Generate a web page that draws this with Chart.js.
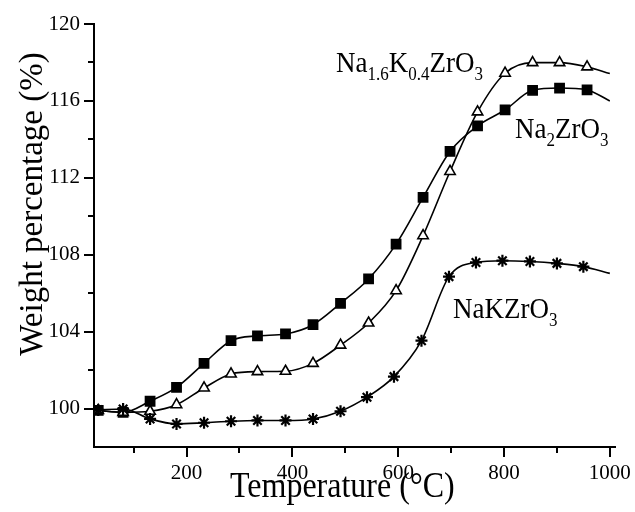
<!DOCTYPE html>
<html>
<head>
<meta charset="utf-8">
<script src="https://cdn.jsdelivr.net/npm/chart.js@4/dist/chart.umd.min.js"></script>
<style>
  body { margin: 0; background: #fff; }
  #wrap { width: 635px; height: 512px; }
</style>
</head>
<body>
<div id="wrap"><canvas id="tgaChart"></canvas></div>
<script>
// temperatures (°C) where markers sit; last entry is the curve end (no marker)
const temps = [33, 80, 131, 181, 233, 284, 334, 387, 439, 491, 544, 596, 647, 698, 750, 802, 854, 905, 957, 1000];
const tempsNaK = [33, 80, 131, 181, 233, 284, 334, 387, 439, 491, 541, 592, 644, 696, 747, 797, 849, 900, 950, 1000];

// weight percentage (%)
const na2ZrO3 = [99.9, 99.8, 100.38, 101.1, 102.35, 103.53, 103.78, 103.88, 104.36, 105.47, 106.74, 108.55, 110.98, 113.37, 114.7, 115.53, 116.55, 116.67, 116.57, 116.0];
const na16K04ZrO3 = [99.9, 99.8, 99.86, 100.2, 101.07, 101.8, 101.92, 101.94, 102.35, 103.3, 104.45, 106.13, 108.99, 112.33, 115.43, 117.44, 117.99, 117.99, 117.77, 117.42];
const naKZrO3 = [99.93, 99.98, 99.46, 99.2, 99.26, 99.34, 99.38, 99.38, 99.46, 99.86, 100.59, 101.66, 103.53, 106.86, 107.6, 107.69, 107.65, 107.55, 107.38, 107.03];

const xTicks = [100, 200, 300, 400, 500, 600, 700, 800, 900, 1000];
const yTicks = [100, 102, 104, 106, 108, 110, 112, 114, 116, 118, 120];

const FONT = '"Liberation Serif", "Times New Roman", serif';

function toPoints(xs, ys) {
    return ys.map((y, i) => ({ x: xs[i], y: y }));
}

function markerRadius(r) {
    return ctx => ctx.dataIndex === ctx.dataset.data.length - 1 ? 0 : r;
}

// draws text with subscripts, slightly stretched vertically like the original figure
function drawChem(ctx, parts, x, y, size) {
    ctx.save();
    ctx.translate(x, y);
    ctx.scale(1, 1.12);
    let cx = 0;
    parts.forEach(([text, sub]) => {
        ctx.font = (sub ? Math.round(size * 0.62) : size) + 'px ' + FONT;
        ctx.fillText(text, cx, sub ? size * 0.28 : 0);
        cx += ctx.measureText(text).width;
    });
    ctx.restore();
}

// ticks, axis titles and curve labels
const decorations = {
    id: 'decorations',
    afterDraw(chart) {
        const ctx = chart.ctx;
        const xs = chart.scales.x, ys = chart.scales.y;
        const area = chart.chartArea;
        ctx.save();
        ctx.strokeStyle = '#000';
        ctx.lineWidth = 2;
        ctx.beginPath();
        xTicks.forEach(v => {
            const px = Math.round(xs.getPixelForValue(v));
            ctx.moveTo(px, area.bottom);
            ctx.lineTo(px, area.bottom + (v % 200 === 0 ? 10 : 6));
        });
        yTicks.forEach(v => {
            const py = Math.round(ys.getPixelForValue(v));
            ctx.moveTo(area.left, py);
            ctx.lineTo(area.left - ((v - 100) % 4 === 0 ? 10 : 6), py);
        });
        ctx.stroke();

        ctx.fillStyle = '#000';
        ctx.textBaseline = 'alphabetic';
        ctx.textAlign = 'left';
        drawChem(ctx, [['Temperature (°C)', 0]], 230, 497, 32);

        ctx.save();
        ctx.translate(42, 204);
        ctx.rotate(-Math.PI / 2);
        ctx.textAlign = 'center';
        ctx.font = '33px ' + FONT;
        ctx.fillText('Weight percentage (%)', 0, 0);
        ctx.restore();

        ctx.textAlign = 'left';
        drawChem(ctx, [['Na', 0], ['1.6', 1], ['K', 0], ['0.4', 1], ['ZrO', 0], ['3', 1]], 336, 72, 27);
        drawChem(ctx, [['Na', 0], ['2', 1], ['ZrO', 0], ['3', 1]], 515, 138, 27);
        drawChem(ctx, [['NaKZrO', 0], ['3', 1]], 453, 318, 27);
        ctx.restore();
    }
};

const lineBase = {
    borderColor: '#000',
    borderWidth: 1.6,
    pointBorderColor: '#000',
    pointBorderWidth: 1.6,
    cubicInterpolationMode: 'monotone',
    fill: false
};

new Chart(document.getElementById('tgaChart'), {
    type: 'line',
    data: {
        datasets: [
            Object.assign({}, lineBase, {
                label: 'NaKZrO3',
                data: toPoints(tempsNaK, naKZrO3),
                pointStyle: 'star',
                pointRadius: markerRadius(6),
                pointBackgroundColor: '#000',
                pointBorderWidth: 2.2
            }),
            Object.assign({}, lineBase, {
                label: 'Na1.6K0.4ZrO3',
                data: toPoints(temps, na16K04ZrO3),
                pointStyle: 'triangle',
                pointRadius: markerRadius(6),
                pointBackgroundColor: '#fff'
            }),
            Object.assign({}, lineBase, {
                label: 'Na2ZrO3',
                data: toPoints(temps, na2ZrO3),
                pointStyle: 'rect',
                pointRadius: markerRadius(6.5),
                pointBackgroundColor: '#000'
            })
        ]
    },
    options: {
        responsive: true,
        maintainAspectRatio: false,
        animation: false,
        layout: { padding: { left: 0, top: 24, right: 18, bottom: 0 } },
        plugins: {
            legend: { display: false },
            tooltip: { enabled: false }
        },
        scales: {
            x: {
                type: 'linear',
                min: 25,
                max: 1010,
                afterBuildTicks: scale => { scale.ticks = xTicks.map(v => ({ value: v })); },
                afterFit: scale => { scale.height = 65; },
                ticks: {
                    color: '#000',
                    font: { family: FONT, size: 21 },
                    padding: 4,
                    maxRotation: 0,
                    autoSkip: false,
                    callback: v => (v % 200 === 0 ? String(v) : '')
                },
                grid: { drawOnChartArea: false, tickLength: 10, tickColor: 'rgba(0,0,0,0)' },
                border: { display: true, color: '#000', width: 2 }
            },
            y: {
                type: 'linear',
                min: 98,
                max: 120,
                afterBuildTicks: scale => { scale.ticks = yTicks.map(v => ({ value: v })); },
                afterFit: scale => { scale.width = 94; },
                ticks: {
                    color: '#000',
                    font: { family: FONT, size: 21 },
                    padding: 4,
                    autoSkip: false,
                    callback: v => ((v - 100) % 4 === 0 ? String(v) : '')
                },
                grid: { drawOnChartArea: false, tickLength: 10, tickColor: 'rgba(0,0,0,0)' },
                border: { display: true, color: '#000', width: 2 }
            }
        }
    },
    plugins: [decorations]
});
</script>
</body>
</html>
